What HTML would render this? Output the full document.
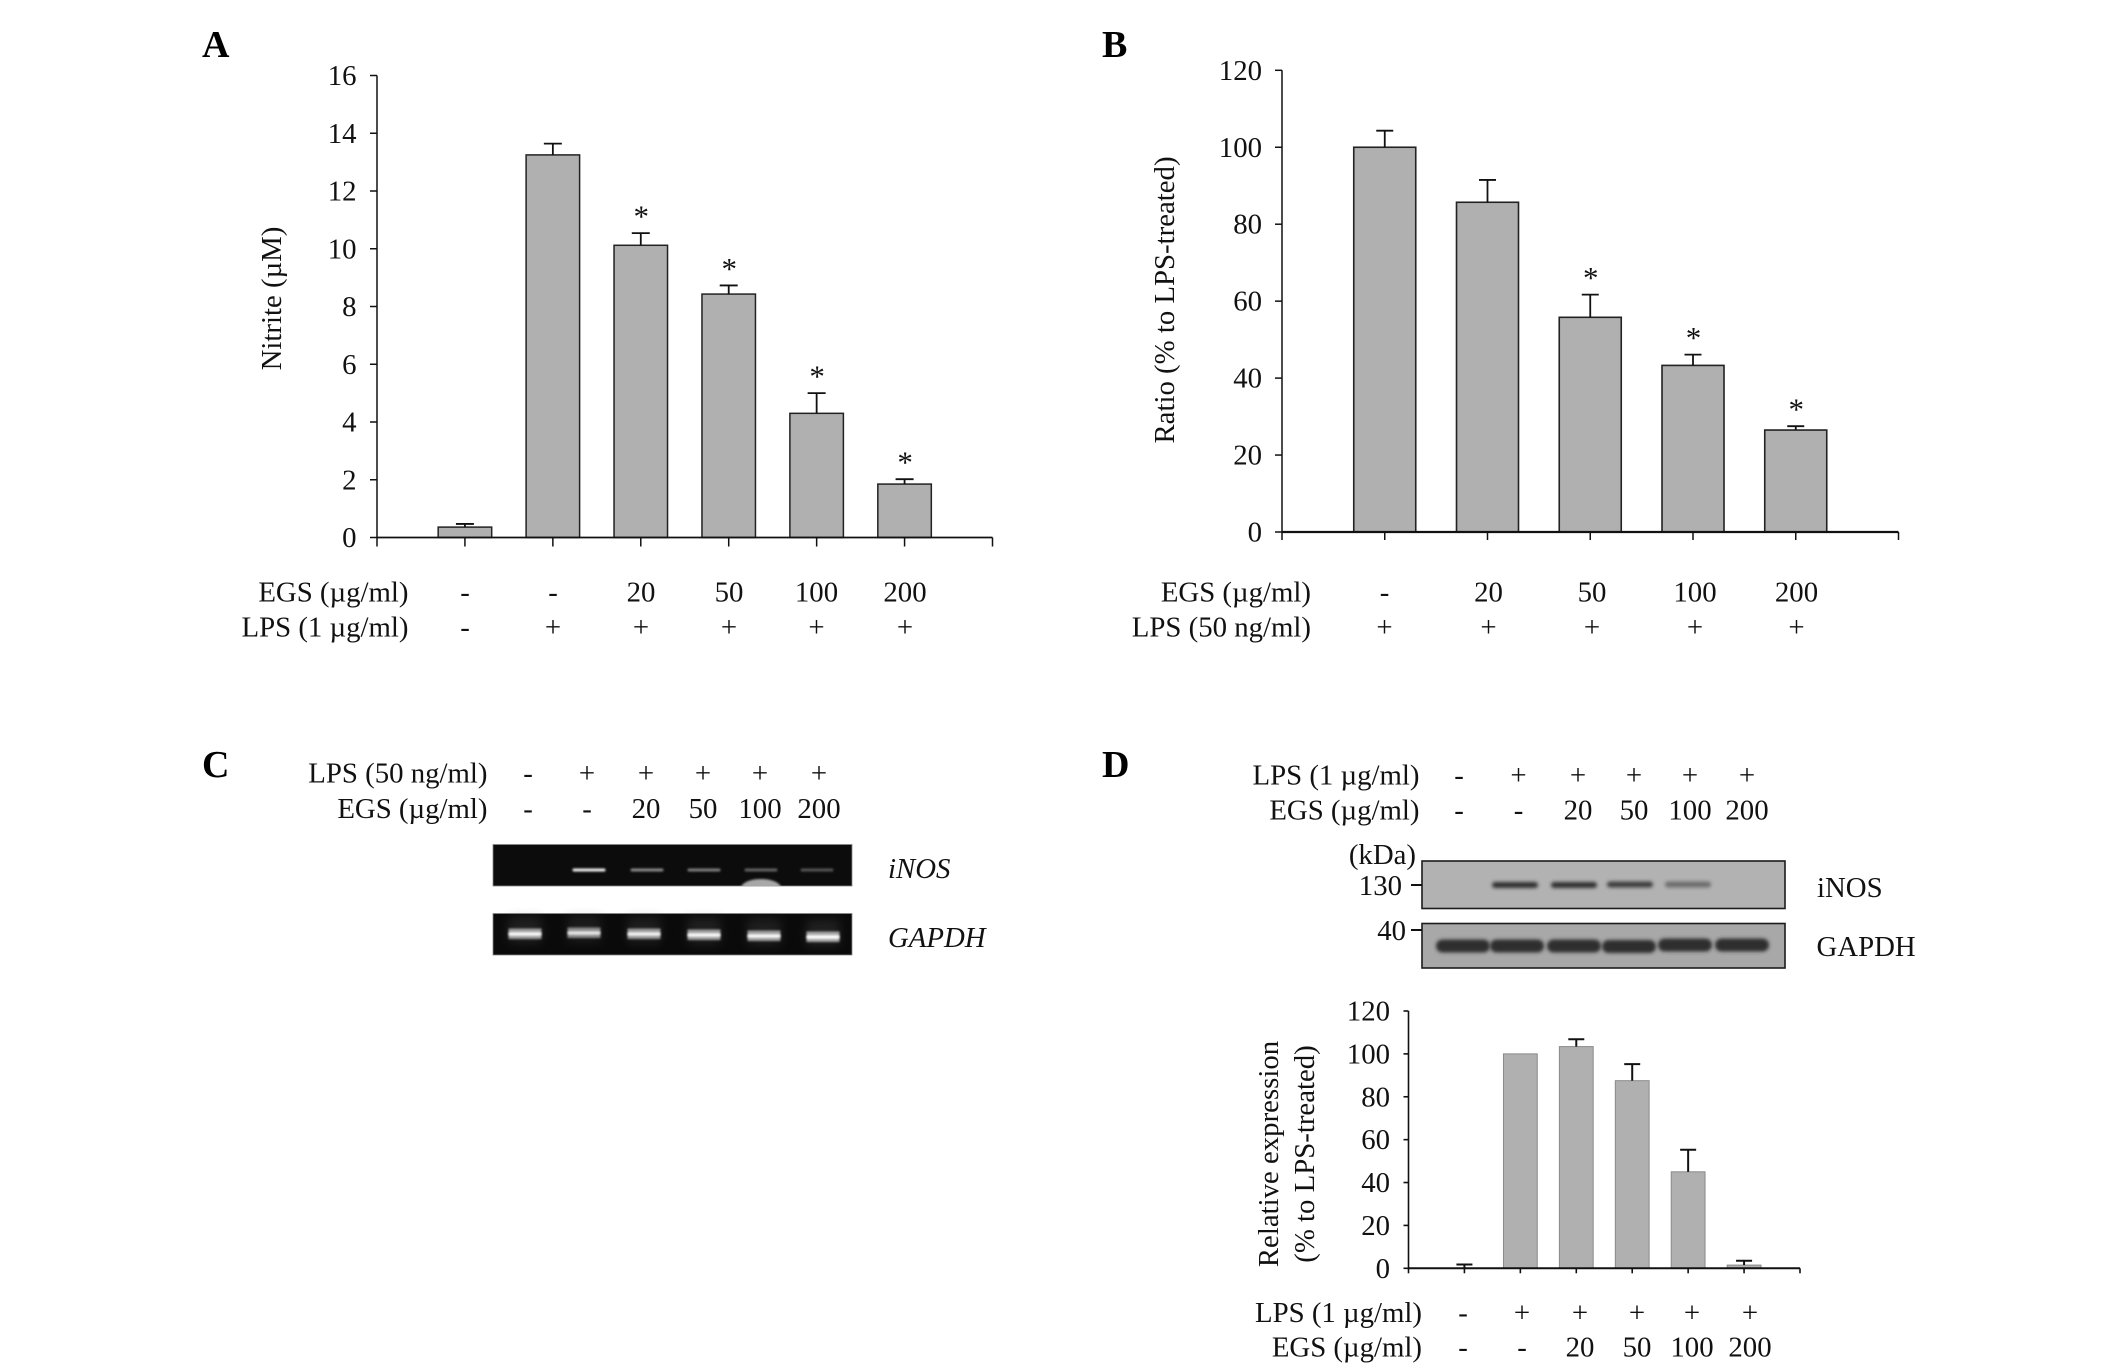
<!DOCTYPE html>
<html lang="en">
<head>
<meta charset="utf-8">
<title>EGS effect on nitrite and iNOS expression</title>
<style>
html,body{margin:0;padding:0;background:#fff;}
body{width:2126px;height:1372px;overflow:hidden;}
svg{display:block;}
text{font-family:"Liberation Serif",serif;font-size:28.8px;fill:#111;}
.panel-letter{font-size:38px;font-weight:bold;fill:#000;}
.ital{font-style:italic;}
</style>
</head>
<body>
<svg id="figure" xmlns="http://www.w3.org/2000/svg" width="2126" height="1372" viewBox="0 0 2126 1372">
  <defs>
    <filter id="blur1" x="-30%" y="-200%" width="160%" height="500%"><feGaussianBlur stdDeviation="1.1"/></filter>
    <filter id="blur2" x="-30%" y="-200%" width="160%" height="500%"><feGaussianBlur stdDeviation="1.8"/></filter>
    <filter id="blur5" x="-40%" y="-200%" width="180%" height="500%"><feGaussianBlur stdDeviation="5"/></filter>
    <clipPath id="clip-c-inos"><rect x="493" y="845" width="359" height="41"/></clipPath>
  </defs>

  <text class="panel-letter" x="202" y="57">A</text>
  <text class="panel-letter" x="1102" y="57">B</text>
  <text class="panel-letter" x="202" y="777">C</text>
  <text class="panel-letter" x="1102" y="777">D</text>

  <g id="chart-a"></g>
  <g id="chart-b"></g>
  <g id="chart-d"></g>

  <g id="gel-c">
    <rect x="493" y="844.5" width="359" height="41.5" fill="#0c0c0c" stroke="#888" stroke-width="0.8"/>
    <rect x="493" y="913.5" width="359" height="41.5" fill="#0a0a0a" stroke="#888" stroke-width="0.8"/>
    <ellipse cx="761" cy="888" rx="20" ry="9" fill="#a8a8a8" filter="url(#blur1)" clip-path="url(#clip-c-inos)"/>
  </g>
  <text class="ital" x="888" y="878">iNOS</text>
  <text class="ital" x="888" y="947">GAPDH</text>

  <g id="blot-d">
    <rect x="1422" y="861" width="363" height="47.5" fill="#b2b2b2" stroke="#1c1c1c" stroke-width="1.6"/>
    <rect x="1422" y="923.5" width="363" height="44.5" fill="#a8a8a8" stroke="#1c1c1c" stroke-width="1.6"/>
    <line x1="1411" x2="1422" y1="885" y2="885" stroke="#111" stroke-width="2"/>
    <line x1="1411" x2="1422" y1="930" y2="930" stroke="#111" stroke-width="2"/>
  </g>
  <text x="1416" y="864" text-anchor="end">(kDa)</text>
  <text x="1402" y="895" text-anchor="end">130</text>
  <text x="1406" y="940" text-anchor="end">40</text>
  <text x="1817" y="897">iNOS</text>
  <text x="1816.5" y="956">GAPDH</text>

  <g id="rows"></g>
</svg>

<script>
/* ---------- Panel A data ---------- */
var aValues = [0.36, 13.25, 10.12, 8.43, 4.3, 1.85];
var aErrors = [0.11, 0.39, 0.42, 0.3, 0.7, 0.17];
var aSignificant = [false, false, true, true, true, true];
var aTicks = [0, 2, 4, 6, 8, 10, 12, 14, 16];

/* ---------- Panel B data ---------- */
var bValues = [100, 85.7, 55.8, 43.3, 26.5];
var bErrors = [4.3, 5.8, 5.9, 2.8, 1];
var bSignificant = [false, false, true, true, true];
var bTicks = [0, 20, 40, 60, 80, 100, 120];

/* ---------- Panel D data ---------- */
var dValues = [0, 100, 103.4, 87.5, 45, 1.5];
var dErrors = [1.8, 0, 3.4, 7.7, 10.3, 2];
var dSignificant = [false, false, false, false, false, false];
var dTicks = [0, 20, 40, 60, 80, 100, 120];

/* ---------- Treatment rows ---------- */
var aEgsRow = ['-', '-', '20', '50', '100', '200'];
var aLpsRow = ['-', '+', '+', '+', '+', '+'];
var bEgsRow = ['-', '20', '50', '100', '200'];
var bLpsRow = ['+', '+', '+', '+', '+'];
var cLpsRow = ['-', '+', '+', '+', '+', '+'];
var cEgsRow = ['-', '-', '20', '50', '100', '200'];
var dTopLpsRow = ['-', '+', '+', '+', '+', '+'];
var dTopEgsRow = ['-', '-', '20', '50', '100', '200'];
var dLpsRow = ['-', '+', '+', '+', '+', '+'];
var dEgsRow = ['-', '-', '20', '50', '100', '200'];

/* ---------- Gel band intensities (0-1) ---------- */
var cInosBands = [0, 1, 0.55, 0.5, 0.38, 0.32];
var cGapdhBands = [0.95, 0.8, 0.9, 0.95, 0.95, 1];
var dInosBands = [0, 0.95, 0.95, 0.85, 0.5, 0];
var dGapdhBands = [1, 1, 1, 1, 1, 1];

var NS = 'http://www.w3.org/2000/svg';

function mk(parent, tag, attrs, txt) {
  var el = document.createElementNS(NS, tag);
  for (var k in attrs) { el.setAttribute(k, attrs[k]); }
  if (txt !== undefined) { el.textContent = txt; }
  parent.appendChild(el);
  return el;
}

function drawChart(root, prefix, values, errors, significant, ticks, g, title) {
  var yMax = ticks[ticks.length - 1];
  function yScale(v) { return g.y0 + (g.yTop - g.y0) * v / yMax; }
  function xScale(i) { return g.x0 + (i + 1) * (g.x1 - g.x0) / (values.length + 1); }

  values.forEach(function (v, i) {
    var cx = xScale(i);
    if (v > 0) {
      var bar = mk(root, 'rect', {x: cx - g.barW / 2, y: yScale(v), width: g.barW, height: g.y0 - yScale(v), fill: '#b0b0b0', stroke: g.barStroke, 'stroke-width': g.barSW});
      
      
    }
    if (errors[i] > 0) {
      var top = yScale(v + errors[i]);
      var stem = mk(root, 'line', {x1: cx, x2: cx, y1: yScale(v), y2: top, stroke: '#111', 'stroke-width': g.errSW});
      
      
      var cap = mk(root, 'line', {x1: cx - g.cap / 2, x2: cx + g.cap / 2, y1: top, y2: top, stroke: '#111', 'stroke-width': g.errSW});
      
      
    }
    if (significant[i]) {
      var star = mk(root, 'text', {x: cx + 0.5, y: yScale(v + errors[i]) - 6.5, 'text-anchor': 'middle', style: 'font-size:31px'}, '*');
      
      
    }
  });

  var yAxis = mk(root, 'line', {x1: g.x0, x2: g.x0, y1: g.yTop, y2: g.y0, stroke: '#111', 'stroke-width': g.axisSW});
  
  
  var xAxis = mk(root, 'line', {x1: g.x0, x2: g.x1, y1: g.y0, y2: g.y0, stroke: '#111', 'stroke-width': g.xAxisSW});
  
  

  ticks.forEach(function (t) {
    var y = yScale(t);
    var tick = mk(root, 'line', {x1: g.x0 - g.tickY, x2: g.x0, y1: y, y2: y, stroke: '#111', 'stroke-width': g.axisSW});
    
    
    var lab = mk(root, 'text', {x: g.labelRight, y: y + 9.5, 'text-anchor': 'end'}, String(t));
    
    
  });

  for (var i = -1; i <= values.length; i++) {
    var tx = xScale(i);
    var xt = mk(root, 'line', {x1: tx, x2: tx, y1: g.y0, y2: g.y0 + g.tickX, stroke: '#111', 'stroke-width': g.axisSW});
    
    
  }

  title.forEach(function (line, idx) {
    var t = mk(root, 'text', {'text-anchor': 'middle', transform: 'translate(' + line.x + ',' + g.titleY + ') rotate(-90)'}, line.text);
    
    
  });
}

drawChart(document.getElementById('chart-a'), 'a', aValues, aErrors, aSignificant, aTicks,
  {x0: 377, x1: 992.5, y0: 537.5, yTop: 75.5, barW: 53.5, barStroke: '#222', barSW: 1.5, errSW: 1.8, axisSW: 1.5, xAxisSW: 1.8, cap: 18, tickY: 7, tickX: 9, labelRight: 356.5, titleY: 298.5},
  [{x: 281, text: 'Nitrite (\u00b5M)'}]);

drawChart(document.getElementById('chart-b'), 'b', bValues, bErrors, bSignificant, bTicks,
  {x0: 1282, x1: 1898.5, y0: 532, yTop: 70.3, barW: 62, barStroke: '#222', barSW: 1.6, errSW: 1.8, axisSW: 1.5, xAxisSW: 2.2, cap: 17, tickY: 7, tickX: 8, labelRight: 1262, titleY: 300},
  [{x: 1174, text: 'Ratio (% to LPS-treated)'}]);

drawChart(document.getElementById('chart-d'), 'd', dValues, dErrors, dSignificant, dTicks,
  {x0: 1408.5, x1: 1800, y0: 1268.3, yTop: 1011, barW: 33.8, barStroke: '#8a8a8a', barSW: 1, errSW: 2, axisSW: 1.6, xAxisSW: 2, cap: 16, tickY: 5, tickX: 5, labelRight: 1390, titleY: 1154},
  [{x: 1278, text: 'Relative expression'}, {x: 1314, text: '(% to LPS-treated)'}]);

/* ---------- Treatment label rows ---------- */
function drawRow(prefix, label, items, right, xs, yc) {
  var root = document.getElementById('rows');
  var lab = mk(root, 'text', {x: right, y: yc + 9.5, 'text-anchor': 'end'}, label);
  
  
  items.forEach(function (s, i) {
    var t = mk(root, 'text', {x: xs[i], y: yc + 9.5, 'text-anchor': 'middle'}, s);
    
    
  });
}
var colsA = [465, 553, 641, 729, 816.5, 905];
var colsB = [1384.5, 1488.5, 1592, 1695, 1796.5];
var colsC = [528, 587, 646, 703, 760, 819];
var colsDT = [1459, 1518.5, 1578, 1634, 1690, 1747];
var colsDB = [1463, 1522, 1580, 1637, 1692, 1750];
drawRow('a-egs', 'EGS (\u00b5g/ml)', aEgsRow, 408.5, colsA, 592.2);
drawRow('a-lps', 'LPS (1 \u00b5g/ml)', aLpsRow, 408.5, colsA, 627.2);
drawRow('b-egs', 'EGS (\u00b5g/ml)', bEgsRow, 1311, colsB, 592.2);
drawRow('b-lps', 'LPS (50 ng/ml)', bLpsRow, 1311, colsB, 627.2);
drawRow('c-lps', 'LPS (50 ng/ml)', cLpsRow, 487.5, colsC, 773);
drawRow('c-egs', 'EGS (\u00b5g/ml)', cEgsRow, 487.5, colsC, 808.5);
drawRow('d-top-lps', 'LPS (1 \u00b5g/ml)', dTopLpsRow, 1419.5, colsDT, 775);
drawRow('d-top-egs', 'EGS (\u00b5g/ml)', dTopEgsRow, 1419.5, colsDT, 810);
drawRow('d-lps', 'LPS (1 \u00b5g/ml)', dLpsRow, 1422, colsDB, 1312.5);
drawRow('d-egs', 'EGS (\u00b5g/ml)', dEgsRow, 1422, colsDB, 1347);

/* ---------- Gel and blot bands ---------- */
function drawBands(rootId, prefix, intensities, xs, ys, w, h, color, filter, halo) {
  var root = document.getElementById(rootId);
  intensities.forEach(function (a, i) {
    if (a <= 0) { return; }
    if (halo) {
      var glow = mk(root, 'rect', {x: xs[i] - w / 2, y: ys[i] - 17, width: w, height: 26, fill: '#555', opacity: 0.3 * a, filter: 'url(#blur5)'});
      
      
      var body = mk(root, 'rect', {x: xs[i] - w / 2, y: ys[i] - 5.5, width: w, height: 10.5, fill: '#a6a6a6', opacity: a, filter: 'url(#blur1)'});
      
      
    }
    var b = mk(root, 'rect', {x: xs[i] - w / 2, y: ys[i] - h / 2, width: w, height: h, rx: h / 2, fill: color, opacity: a, filter: 'url(#' + filter + ')'});
    
    
  });
}
var cInosX = [530, 589, 647, 704, 761, 817];
var cInosY = [870, 870, 870, 870, 870, 870];
var cGapdhX = [525, 584, 644, 704, 764, 823];
var cGapdhY = [934, 933, 934, 935, 936, 937];
var dInosX = [1460, 1515, 1574, 1630, 1688, 1745];
var dInosY = [885, 885, 885, 884.5, 884.5, 885];
var dGapdhX = [1463, 1517, 1574, 1629, 1685, 1742];
var dGapdhY = [946, 946, 946, 946.5, 945, 945];
drawBands('gel-c', 'c-inos', cInosBands, cInosX, cInosY, 33, 3, '#f0f0f0', 'blur1', false);
drawBands('gel-c', 'c-gapdh', cGapdhBands, cGapdhX, cGapdhY, 33, 3.5, '#ffffff', 'blur1', true);
drawBands('blot-d', 'd-inos', dInosBands, dInosX, dInosY, 46, 6, '#2c2c2c', 'blur2', false);
drawBands('blot-d', 'd-gapdh', dGapdhBands, dGapdhX, dGapdhY, 54, 13, '#2e2e2e', 'blur2', false);
</script>
</body>
</html>
